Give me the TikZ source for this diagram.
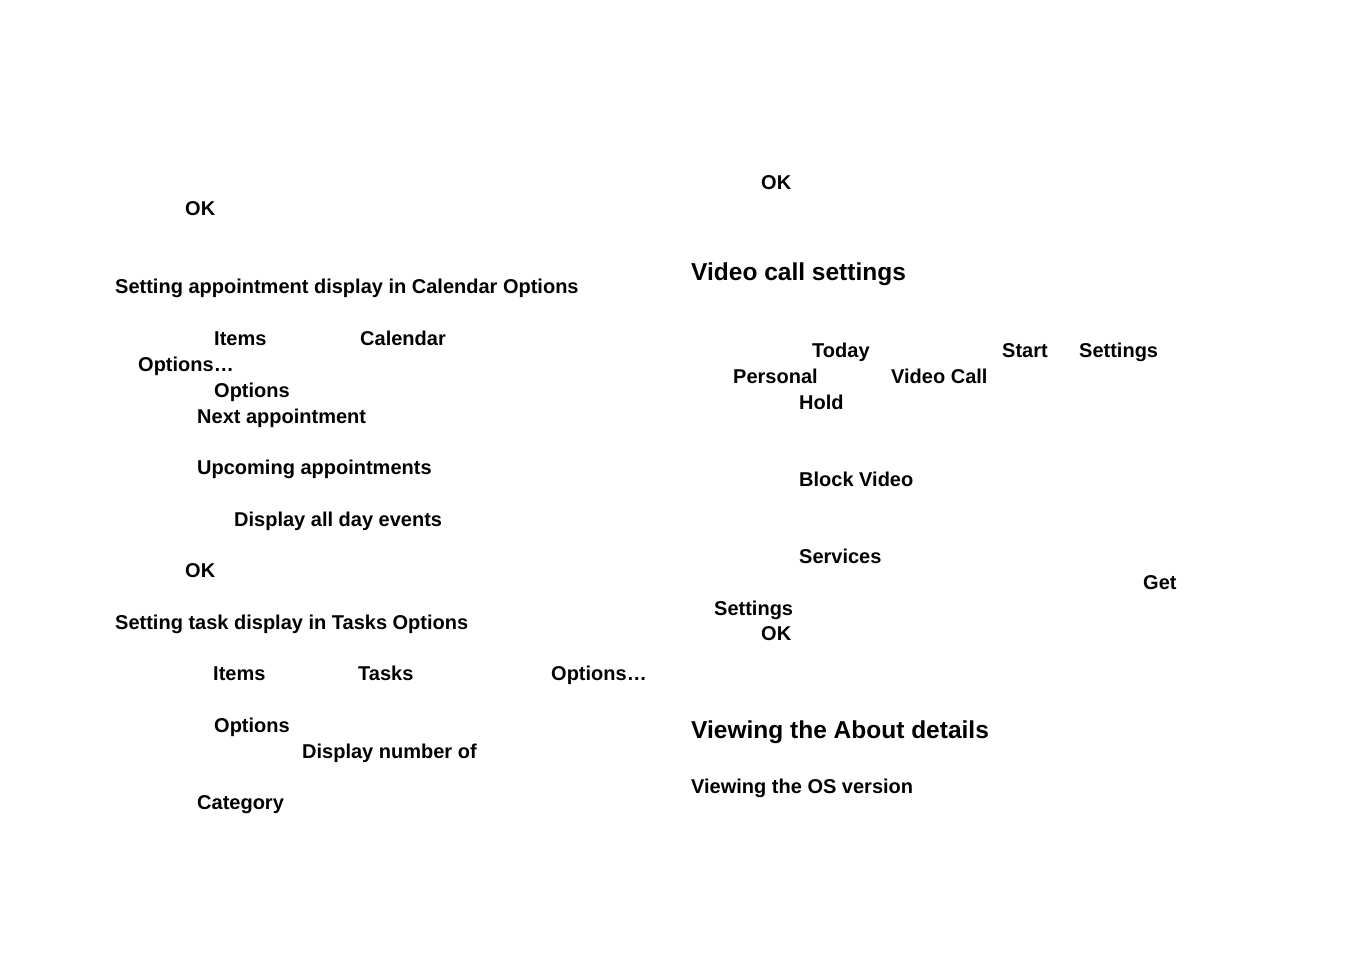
\documentclass[tikz,border=0pt]{standalone}
\usepackage{fontspec}
\setmainfont{Liberation Sans}
\begin{document}
\begin{tikzpicture}[x=1pt,y=-1pt,
  txt/.style={anchor=base west,inner sep=0pt,font=\fontsize{20}{24}\selectfont\bfseries},
  head/.style={anchor=base west,inner sep=0pt,font=\fontsize{24.5}{29}\selectfont\bfseries}]
  \useasboundingbox (0,0) rectangle (1350,954);
  % left column
  \node[txt] (ok1) at (185,215) {OK};
  \node[txt] (calhead) at (115,293) {Setting appointment display in Calendar Options};
  \node[txt] (items1) at (214,345) {Items};
  \node[txt] (cal) at (360,345) {Calendar};
  \node[txt] (opts1) at (138,371) {Options…};
  \node[txt] (opt1) at (214,397) {Options};
  \node[txt] (next) at (197,423) {Next appointment};
  \node[txt] (upc) at (197,474) {Upcoming appointments};
  \node[txt] (allday) at (234,526) {Display all day events};
  \node[txt] (ok2) at (185,577) {OK};
  \node[txt] (taskhead) at (115,629) {Setting task display in Tasks Options};
  \node[txt] (items2) at (213,680) {Items};
  \node[txt] (tasks) at (358,680) {Tasks};
  \node[txt] (opts2) at (551,680) {Options…};
  \node[txt] (opt2) at (214,732) {Options};
  \node[txt] (disp) at (302,758) {Display number of};
  \node[txt] (catg) at (197,809) {Category};
  % right column
  \node[txt] (ok3) at (761,189) {OK};
  \node[head] (vidhead) at (691,280) {Video call settings};
  \node[txt] (today) at (812,357) {Today};
  \node[txt] (start) at (1002,357) {Start};
  \node[txt] (set1) at (1079,357) {Settings};
  \node[txt] (pers) at (733,383) {Personal};
  \node[txt] (vcall) at (891,383) {Video Call};
  \node[txt] (hold) at (799,409) {Hold};
  \node[txt] (block) at (799,486) {Block Video};
  \node[txt] (serv) at (799,563) {Services};
  \node[txt] (get) at (1143,589) {Get};
  \node[txt] (set2) at (714,615) {Settings};
  \node[txt] (ok4) at (761,640) {OK};
  \node[head] (about) at (691,738) {Viewing the About details};
  \node[txt] (osver) at (691,793) {Viewing the OS version};
\end{tikzpicture}
\end{document}
